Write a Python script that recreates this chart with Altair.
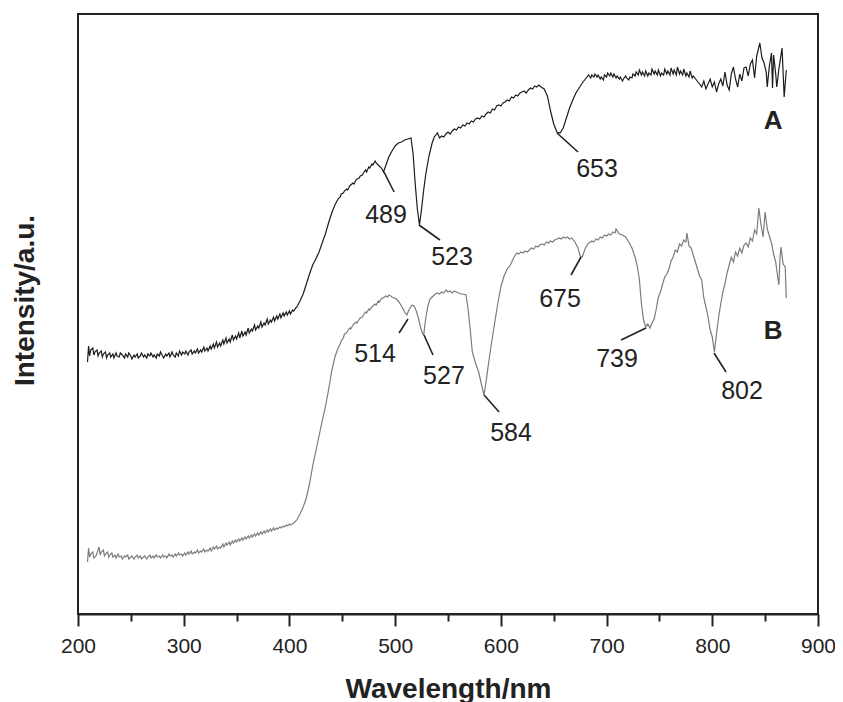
import altair as alt
import pandas as pd

# ---- data: (wavelength nm, intensity a.u.) ----
spectrum_A = [
    (209, 252), (210, 268), (211, 258), (212, 264), (214, 266), (215, 259), (216, 262), (218, 264),
    (219, 258), (220, 261), (222, 263), (223, 257), (224, 260), (226, 262), (227, 256), (228, 259),
    (230, 261), (231, 257), (233, 260), (234, 256), (236, 261), (237, 258), (239, 257), (240, 261),
    (242, 259), (244, 256), (245, 260), (247, 257), (248, 261), (250, 258), (251, 255), (253, 259),
    (254, 257), (256, 260), (257, 256), (259, 258), (260, 261), (262, 257), (263, 259), (265, 256),
    (266, 260), (268, 258), (269, 261), (271, 257), (272, 259), (274, 256), (275, 260), (277, 258),
    (278, 262), (280, 258), (281, 256), (283, 260), (284, 258), (286, 261), (287, 257), (289, 262),
    (290, 259), (292, 257), (293, 261), (295, 258), (296, 263), (298, 259), (299, 262), (301, 260),
    (302, 263), (304, 259), (305, 262), (307, 264), (308, 260), (310, 263), (311, 261), (313, 265),
    (314, 261), (316, 264), (317, 262), (319, 267), (320, 263), (322, 266), (323, 263), (325, 268),
    (326, 265), (328, 270), (329, 266), (331, 272), (332, 267), (334, 271), (335, 268), (337, 274),
    (338, 270), (340, 276), (341, 271), (343, 275), (344, 272), (346, 279), (347, 274), (349, 278),
    (350, 275), (352, 281), (353, 276), (355, 283), (356, 278), (358, 282), (359, 279), (361, 286),
    (362, 281), (364, 285), (365, 283), (367, 289), (368, 284), (370, 288), (371, 286), (373, 292),
    (374, 287), (376, 291), (377, 289), (379, 295), (380, 290), (382, 294), (383, 292), (385, 297),
    (386, 293), (388, 298), (389, 295), (391, 300), (392, 296), (394, 301), (395, 298), (397, 302),
    (398, 299), (400, 303), (401, 300), (403, 304), (404, 303), (406, 306), (407, 307), (410, 313),
    (413, 320), (416, 330), (419, 340), (422, 349), (425, 355), (428, 362), (431, 371), (434, 380),
    (437, 391), (440, 401), (443, 409), (446, 415), (448, 417), (449, 420), (451, 421), (452, 423),
    (454, 425), (455, 424), (457, 428), (458, 429), (460, 431), (461, 430), (463, 434), (464, 435),
    (466, 436), (467, 438), (469, 439), (470, 441), (472, 444), (473, 442), (475, 447), (476, 446),
    (478, 450), (479, 449), (481, 453), (482, 451),
    (484, 449), (487, 446), (489, 442), (491, 448), (494, 457), (497, 463), (500, 468), (503, 471),
    (506, 472), (509, 474), (512, 475), (515, 476), (517, 460), (519, 430), (521, 405), (523, 389),
    (525, 405), (527, 424), (529, 440), (532, 458), (535, 471), (537, 477), (540, 481), (542, 476),
    (544, 478), (546, 477), (548, 480), (550, 482), (552, 480), (554, 483), (556, 485), (558, 484),
    (560, 487), (562, 486), (564, 489), (566, 488), (568, 491), (570, 490), (572, 493), (574, 492),
    (576, 495), (578, 496), (580, 495), (582, 498), (584, 497), (586, 500), (588, 502), (590, 501),
    (592, 505), (594, 504), (596, 508), (598, 509), (600, 508), (602, 511), (604, 512), (606, 514),
    (608, 513), (610, 517), (612, 516), (614, 519), (616, 518), (618, 521), (620, 522), (622, 523),
    (624, 521), (626, 524), (628, 526), (630, 525), (632, 528), (634, 527), (636, 529), (638, 527),
    (641, 525), (644, 518), (647, 503), (650, 490), (653, 482), (656, 481), (659, 486), (662, 496),
    (665, 506), (668, 514), (671, 521), (674, 526), (677, 531), (680, 535), (683, 539), (685, 536),
    (686, 539), (688, 537), (689, 540), (691, 537), (692, 539), (694, 535), (695, 537), (697, 534),
    (698, 539), (700, 537), (701, 541), (703, 538), (704, 541), (706, 537), (707, 540), (709, 536),
    (710, 538), (712, 535), (713, 537), (715, 533), (716, 535), (718, 538), (719, 536), (721, 534),
    (722, 537), (724, 536), (725, 540), (727, 538), (728, 542), (730, 539), (731, 544), (733, 539),
    (734, 542), (736, 538), (737, 543), (739, 538), (740, 541), (742, 539), (743, 545), (745, 540),
    (746, 543), (748, 539), (749, 544), (751, 538), (752, 541), (754, 539), (755, 545), (757, 540),
    (758, 543), (760, 539), (761, 546), (763, 540), (764, 544), (766, 539), (767, 547), (769, 540),
    (770, 543), (772, 539), (773, 545), (775, 538), (776, 541), (778, 537), (779, 543), (781, 536),
    (782, 538), (785, 534), (788, 530), (790, 527), (792, 533), (794, 525), (796, 530), (798, 535),
    (800, 527), (802, 532), (804, 522), (806, 530), (808, 535), (810, 528), (812, 542), (814, 529),
    (816, 524), (818, 540), (820, 547), (822, 535), (824, 527), (826, 540), (828, 533), (830, 546),
    (832, 547), (834, 538), (836, 550), (838, 554), (840, 536), (842, 558), (845, 571), (847, 556),
    (849, 551), (851, 542), (852, 527), (854, 548), (856, 561), (857, 526), (858, 559), (860, 540),
    (861, 527), (863, 545), (866, 566), (868, 517), (870, 544),
]

spectrum_B = [
    (209, 52), (210, 66), (211, 57), (212, 60), (214, 62), (215, 56), (217, 58), (218, 61),
    (220, 67), (221, 59), (222, 62), (224, 64), (225, 58), (226, 60), (228, 62), (229, 57),
    (230, 59), (232, 61), (233, 57), (235, 59), (236, 56), (238, 60), (239, 57), (241, 58),
    (242, 55), (244, 58), (245, 57), (247, 59), (248, 55), (250, 57), (251, 58), (253, 55),
    (254, 57), (256, 59), (257, 56), (259, 58), (260, 55), (262, 57), (263, 58), (265, 55),
    (266, 57), (268, 59), (269, 56), (271, 58), (272, 56), (274, 59), (275, 57), (277, 58),
    (278, 56), (280, 59), (281, 57), (283, 58), (284, 56), (286, 60), (287, 58), (289, 59),
    (290, 57), (292, 60), (293, 58), (295, 61), (296, 59), (298, 60), (299, 58), (301, 61),
    (302, 59), (304, 62), (305, 60), (307, 63), (308, 60), (310, 62), (311, 61), (313, 64),
    (314, 61), (316, 63), (317, 62), (319, 65), (320, 62), (322, 64), (323, 63), (325, 66),
    (326, 63), (328, 67), (329, 65), (331, 68), (332, 65), (334, 67), (335, 66), (337, 70),
    (338, 67), (340, 71), (341, 69), (343, 72), (344, 69), (346, 73), (347, 71), (349, 74),
    (350, 72), (352, 75), (353, 73), (355, 76), (356, 74), (358, 77), (359, 75), (361, 78),
    (362, 76), (364, 79), (365, 77), (367, 80), (368, 78), (370, 81), (371, 79), (373, 82),
    (374, 80), (376, 83), (377, 81), (379, 84), (380, 82), (382, 85), (383, 83), (385, 86),
    (386, 84), (388, 86), (389, 85), (391, 87), (392, 86), (394, 88), (395, 87), (397, 89),
    (398, 88), (400, 90), (401, 89), (404, 91), (407, 94), (410, 100), (413, 107),
    (416, 116), (419, 130), (422, 148), (425, 163), (428, 178), (431, 193), (434, 207), (437, 224),
    (440, 243), (443, 257), (446, 266), (448, 270), (449, 273), (451, 276), (452, 280), (454, 281),
    (455, 283), (457, 286), (458, 285), (460, 289), (461, 290), (463, 292), (464, 291), (466, 295),
    (467, 296), (469, 297), (470, 299), (472, 302), (473, 301), (475, 305), (476, 304), (478, 307),
    (479, 308), (481, 310), (482, 309), (484, 313), (485, 312), (487, 315), (488, 316), (490, 317),
    (491, 318), (493, 317), (494, 319), (496, 318), (497, 317), (499, 316), (500, 316), (502, 314),
    (503, 313), (506, 308), (509, 302),
    (511, 299), (513, 304), (516, 309), (518, 308), (520, 303), (522, 296), (524, 287), (526, 280),
    (527, 279), (529, 296), (531, 308), (533, 315), (535, 317), (536, 318), (538, 320), (540, 321),
    (542, 320), (544, 322), (546, 321), (548, 324), (550, 322), (552, 323), (554, 321), (556, 323),
    (558, 322), (560, 321), (562, 320), (564, 320), (567, 319), (569, 305), (571, 285), (573, 262),
    (576, 251), (579, 242), (582, 228), (584, 219), (586, 232), (588, 248), (591, 270), (594, 290),
    (597, 310), (600, 327), (603, 338), (606, 345), (609, 349), (612, 356), (615, 361), (617, 360),
    (619, 362), (621, 361), (623, 363), (625, 362), (627, 364), (629, 366), (631, 365), (633, 368),
    (635, 367), (637, 369), (639, 370), (641, 369), (643, 372), (645, 371), (647, 373), (649, 372),
    (651, 374), (653, 375), (655, 376), (657, 375), (659, 377), (661, 376), (663, 377), (665, 375),
    (667, 376), (670, 372), (673, 366), (675, 358), (677, 357),
    (680, 366), (683, 371), (685, 372), (686, 373), (688, 372), (690, 375), (692, 374), (694, 377),
    (696, 376), (698, 379), (700, 378), (702, 380), (704, 379), (706, 382), (708, 381),
    (709, 385), (712, 380), (715, 379), (718, 377), (721, 372), (724, 366), (727, 357), (729, 348),
    (731, 335), (733, 310), (735, 294), (737, 287), (739, 290), (741, 286), (743, 291), (745, 295),
    (747, 305), (749, 317), (751, 322), (753, 330), (755, 337), (757, 340), (759, 345), (761, 353),
    (763, 357), (765, 364), (767, 362), (769, 370), (771, 368), (773, 374), (775, 372), (776, 381),
    (778, 368), (780, 366), (782, 359), (784, 352), (786, 345), (788, 338), (790, 334), (792, 316),
    (794, 307), (796, 297), (798, 284), (800, 277), (802, 262), (804, 280), (806, 297), (808, 310),
    (810, 322), (812, 330), (814, 341), (816, 349), (818, 357), (820, 352), (822, 362), (824, 358),
    (826, 366), (828, 361), (830, 369), (832, 371), (834, 367), (836, 376), (838, 373), (840, 384),
    (842, 380), (844, 406), (846, 390), (848, 377), (850, 402), (852, 385), (854, 378), (856, 371),
    (858, 360), (860, 352), (862, 336), (863, 329), (864, 355), (865, 367), (867, 350), (869, 347),
    (870, 316),
]

# peak annotations (data units)
peak_labels = ["489", "523", "653", "514", "527", "584", "675", "739", "802"]
peak_wl = [489.5, 522.6, 653.1, 512.2, 527.3, 584.1, 675.8, 737.3, 801.6]
peak_int = [442, 389, 481, 295, 279, 219, 357, 286, 261]
leader_wl = [499.0, 542.4, 673.0, 503.7, 535.8, 598.3, 666.4, 713.7, 813.0]
leader_int = [422, 374, 462, 281, 259, 202, 339, 274, 242]
text_wl = [491.4, 553.8, 691.0, 481.0, 546.2, 609.6, 656.0, 709.9, 828.1]
text_int = [401, 359, 447, 262, 240, 183, 317, 257, 225]

series_names = ["A", "B"]
series_label_wl = [857.5, 857.5]
series_label_int = [495, 285]

x_tick_values = [200, 250, 300, 350, 400, 450, 500, 550, 600, 650, 700, 750, 800, 850, 900]

FONT = "Liberation Sans"

rows = []
for name, spec in zip(series_names, [spectrum_A, spectrum_B]):
    for wl, it in spec:
        rows.append({"series": name, "wl": wl, "int": it})
spec_df = pd.DataFrame(rows)

ann_df = pd.DataFrame({
    "label": peak_labels, "wl": peak_wl, "int": peak_int,
    "wl2": leader_wl, "int2": leader_int, "twl": text_wl, "tint": text_int,
})
ser_df = pd.DataFrame({"label": series_names, "wl": series_label_wl, "int": series_label_int})

xscale = alt.Scale(domain=[200, 900], nice=False)
yscale = alt.Scale(domain=[0, 600], nice=False)

x_axis = alt.Axis(
    values=x_tick_values,
    labelExpr="datum.value % 100 === 0 ? datum.label : ''",
    tickSize={"condition": {"test": "datum.value % 100 !== 0", "value": 7}, "value": 12},
    tickColor="#222", tickWidth=2, domainColor="#222", domainWidth=2,
    labelFont=FONT, labelFontSize=21, labelColor="#222", labelFlush=False, labelOverlap=False,
    labelBaseline="alphabetic", labelPadding=26,
    grid=False, title="Wavelength/nm", titleFont=FONT, titleFontSize=28,
    titleFontWeight="bold", titleColor="#222", titleBaseline="alphabetic", titleY=83,
)
y_axis = alt.Axis(
    labels=False, ticks=False, domain=False, grid=False,
    title="Intensity/a.u.", titleFont=FONT, titleFontSize=28, titleFontWeight="bold",
    titleColor="#222", titleAngle=270, titleAlign="center", titleBaseline="alphabetic",
    titleX=-45, titleY=286,
)

lines = alt.Chart(spec_df).mark_line(strokeWidth=1.2).encode(
    x=alt.X("wl:Q", scale=xscale, axis=x_axis),
    y=alt.Y("int:Q", scale=yscale, axis=y_axis),
    color=alt.Color("series:N", scale=alt.Scale(domain=series_names, range=["#1c1c1c", "#7c7c7c"]), legend=None),
    detail="series:N",
)

leaders = alt.Chart(ann_df).mark_rule(color="#222", strokeWidth=1.6).encode(
    x="wl:Q", y="int:Q", x2="wl2:Q", y2="int2:Q",
)

peak_text = alt.Chart(ann_df).mark_text(
    font=FONT, fontSize=25, color="#222", align="center", baseline="middle", dy=2,
).encode(x="twl:Q", y="tint:Q", text="label:N")

series_text = alt.Chart(ser_df).mark_text(
    font=FONT, fontSize=26, fontWeight="bold", color="#222", align="center", baseline="middle", dy=2,
).encode(x="wl:Q", y="int:Q", text="label:N")

chart = alt.layer(lines, leaders, peak_text, series_text).properties(
    width=740, height=600,
    autosize=alt.AutoSizeParams(type="none"),
    padding={"left": 70, "top": 6, "right": 17, "bottom": 88},
    background="white",
).configure_view(stroke="#222", strokeWidth=2)

chart.save("out.html", embed_options={"renderer": "svg", "actions": False})
